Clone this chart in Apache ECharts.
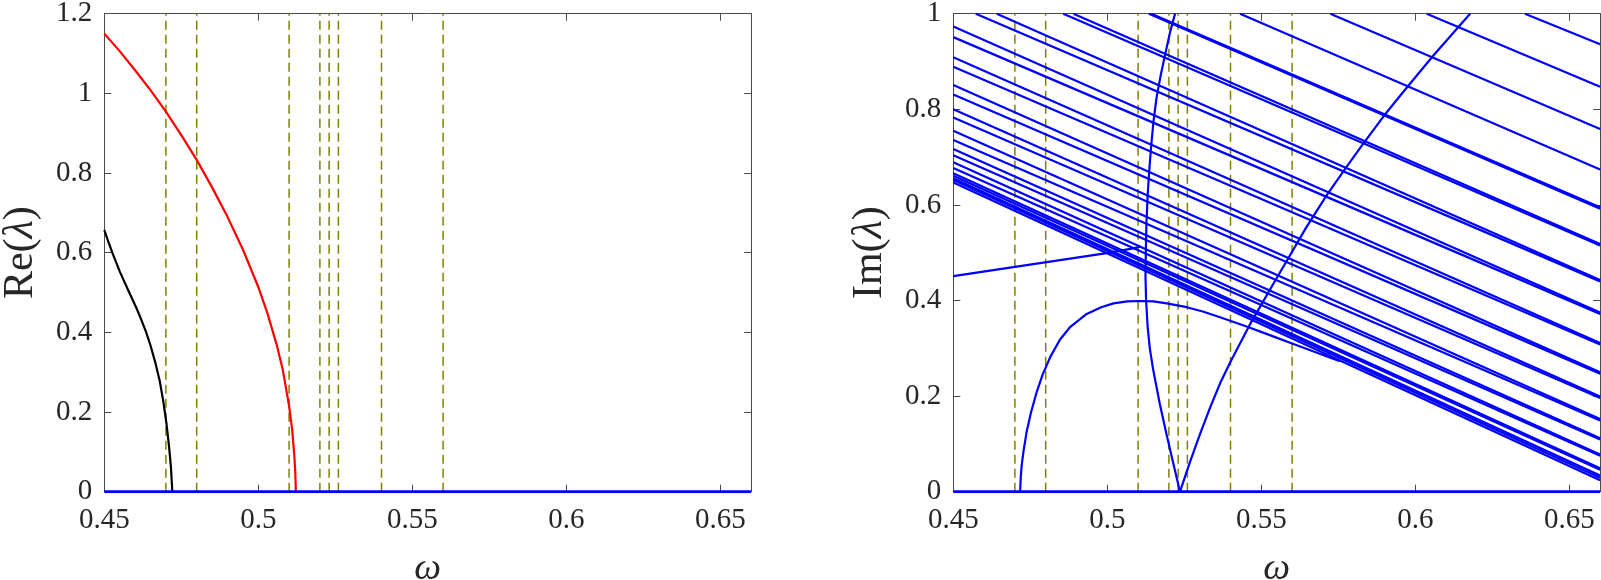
<!DOCTYPE html>
<html>
<head>
<meta charset="utf-8">
<script src="https://cdn.jsdelivr.net/npm/echarts@6/dist/echarts.min.js"></script>
<style>
  html, body { margin: 0; padding: 0; background: #fff; }
  #chart { width: 1601px; height: 580px; }
</style>
</head>
<body>
<div id="chart"></div>
<script>
// vertical dashed markers (omega values)
const dashOmega = [0.47, 0.48, 0.51, 0.52, 0.523, 0.526, 0.54, 0.56];

// left panel: Re(lambda)
const reRed = [[0.45,1.15],[0.455,1.106],[0.46,1.058],[0.465,1.008],[0.47,0.954],[0.475,0.895],[0.48,0.833],
  [0.485,0.764],[0.49,0.69],[0.495,0.608],[0.5,0.514],[0.503,0.447],[0.506,0.368],[0.508,0.304],
  [0.51,0.215],[0.511,0.155],[0.5117,0.09],[0.512,0.05],[0.5122,0]];
const reBlack = [[0.45,0.657],[0.4513,0.628],[0.4526,0.6],[0.455,0.553],[0.4578,0.505],[0.4605,0.46],
  [0.462,0.432],[0.4636,0.4],[0.465,0.367],[0.4665,0.326],[0.468,0.278],[0.4692,0.225],[0.4702,0.17],
  [0.471,0.115],[0.4716,0.065],[0.4721,0]];
const reZero = [[0.45,0],[0.66,0]];

// right panel: Im(lambda), straight branches
// lines entering at omega=0.45 (start value) and leaving at omega=0.66 (end value)
const imLeftStart = [0.973,0.951,0.909,0.889,0.851,0.831,0.800,0.783,0.755,0.736,0.717,0.704,0.689,0.677,0.666,0.661,0.656,0.652,0.647];
const imLeftEnd   = [0.375,0.372,0.311,0.308,0.250,0.247,0.199,0.196,0.152,0.149,0.112,0.109,0.078,0.075,0.049,0.046,0.034,0.029,0.024];
// lines entering through the top (omega where Im=1) and their value at omega=0.66
const omTopStart = [0.4573,0.4641,0.4857,0.4890,0.5135,0.5143,0.5431,0.5724,0.6037,0.6356];
const imTopEnd   = [0.440,0.443,0.515,0.518,0.592,0.595,0.674,0.759,0.847,0.936];

// right panel: curved branches
const imArch = [[0.4717,0],[0.4719,0.03],[0.4722,0.055],[0.4728,0.085],[0.4738,0.125],[0.4752,0.165],[0.4771,0.209],
  [0.479,0.245],[0.4815,0.282],[0.4846,0.318],[0.488,0.345],[0.4933,0.372],[0.498,0.386],[0.502,0.394],
  [0.5065,0.398],[0.5106,0.399],[0.515,0.398],[0.5193,0.394],[0.5258,0.386],[0.531,0.377],[0.5366,0.365],
  [0.545,0.346],[0.553,0.327],[0.56,0.31],[0.5755,0.273]];
const imSteep = [[0.5236,0],[0.5214,0.06],[0.5193,0.118],[0.517,0.185],[0.5149,0.255],[0.5138,0.3],[0.5131,0.345],
  [0.5126,0.4],[0.5124,0.45],[0.5125,0.5],[0.5127,0.56],[0.5131,0.62],[0.5136,0.67],[0.5142,0.72],[0.515,0.775],
  [0.516,0.825],[0.5173,0.87],[0.5188,0.915],[0.5204,0.962],[0.522,1.0]];
const imRise = [[0.5236,0],[0.527,0.065],[0.530,0.119],[0.5335,0.178],[0.5367,0.228],[0.540,0.272],[0.5463,0.35],
  [0.555,0.447],[0.5582,0.482],[0.5645,0.552],[0.5712,0.62],[0.5775,0.678],[0.5831,0.728],[0.59,0.788],
  [0.5972,0.845],[0.6058,0.912],[0.614,0.972],[0.6178,1.0]];
const imCross = [[0.45,0.451],[0.4998,0.499],[0.5084,0.509],[0.511,0.513]];
const imZero = [[0.45,0],[0.66,0]];

const X_MIN = 0.45, X_MAX = 0.66;
const AX = '#4a4a4a';
const TXT = '#262626';
const FONT = 'Liberation Serif';

function xAxis(grid, pos, withLabel) {
  return {
    type: 'value', gridIndex: grid, position: pos,
    min: X_MIN, max: X_MAX, interval: 0.05,
    axisLine: { show: true, onZero: false, lineStyle: { color: AX, width: 1 } },
    axisTick: { show: true, inside: true, length: 7, lineStyle: { color: AX, width: 1 } },
    axisLabel: { show: withLabel, showMaxLabel: false, margin: 14, color: TXT, fontFamily: FONT, fontSize: 29,
      formatter: v => String(+v.toFixed(2)) },
    splitLine: { show: false },
    name: withLabel ? 'ω' : '',
    nameLocation: 'middle', nameGap: 58, nameMoveOverlap: false,
    nameTextStyle: { fontFamily: FONT, fontStyle: 'italic', fontSize: 38, color: TXT }
  };
}

function yAxis(grid, pos, max, title) {
  return {
    type: 'value', gridIndex: grid, position: pos,
    min: 0, max: max, interval: 0.2,
    axisLine: { show: true, onZero: false, lineStyle: { color: AX, width: 1 } },
    axisTick: { show: true, inside: true, length: 7, lineStyle: { color: AX, width: 1 } },
    axisLabel: { show: !!title, margin: 12, color: TXT, fontFamily: FONT, fontSize: 29,
      formatter: v => String(+v.toFixed(1)) },
    splitLine: { show: false },
    name: title ? '{r|' + title + '(}{i|λ}{r|)}' : '',
    nameLocation: 'middle', nameGap: 62, nameRotate: 90, nameMoveOverlap: false,
    nameTextStyle: {
      color: TXT,
      rich: {
        r: { fontFamily: FONT, fontSize: 42, color: TXT },
        i: { fontFamily: FONT, fontSize: 42, fontStyle: 'italic', color: TXT }
      }
    }
  };
}

function line(data, color, width, idx) {
  return {
    type: 'line', xAxisIndex: idx, yAxisIndex: idx, data: data,
    symbol: 'none', showSymbol: false, smooth: false,
    lineStyle: { color: color, width: width, join: 'round' }, silent: true, clip: true
  };
}

function dashed(idx, ymax) {
  return dashOmega.map(w => ({
    type: 'line', xAxisIndex: idx, yAxisIndex: idx, data: [[w, 0], [w, ymax]],
    symbol: 'none', silent: true,
    lineStyle: { color: '#808000', width: 1.5, type: [9, 5] }
  }));
}

const series = [];
// left panel
series.push(...dashed(0, 1.2));
series.push(line(reBlack, '#000000', 2.2, 0));
series.push(line(reRed, '#ff0000', 2.2, 0));
series.push(line(reZero, '#0000ff', 3, 0));
// right panel
series.push(...dashed(2, 1.0));
imLeftStart.forEach((v, i) => series.push(line([[X_MIN, v], [X_MAX, imLeftEnd[i]]], '#0000ff', 2.2, 2)));
omTopStart.forEach((w, i) => series.push(line([[w, 1.0], [X_MAX, imTopEnd[i]]], '#0000ff', 2.2, 2)));
series.push(line(imCross, '#0000ff', 2.2, 2));
series.push(line(imArch, '#0000ff', 2.2, 2));
series.push(line(imSteep, '#0000ff', 2.2, 2));
series.push(line(imRise, '#0000ff', 2.2, 2));
series.push(line(imZero, '#0000ff', 3, 2));

const chart = echarts.init(document.getElementById('chart'), null, { renderer: 'canvas' });
chart.setOption({
  animation: false,
  backgroundColor: '#ffffff',
  grid: [
    { left: 104.3, top: 13.7, width: 646.8, height: 478, outerBoundsMode: 'none', containLabel: false },
    { left: 953.3, top: 13.7, width: 646.8, height: 478, outerBoundsMode: 'none', containLabel: false }
  ],
  xAxis: [xAxis(0, 'bottom', true), xAxis(0, 'top', false), xAxis(1, 'bottom', true), xAxis(1, 'top', false)],
  yAxis: [yAxis(0, 'left', 1.2, 'Re'), yAxis(0, 'right', 1.2, ''), yAxis(1, 'left', 1.0, 'Im'), yAxis(1, 'right', 1.0, '')],
  series: series
});
</script>
</body>
</html>
